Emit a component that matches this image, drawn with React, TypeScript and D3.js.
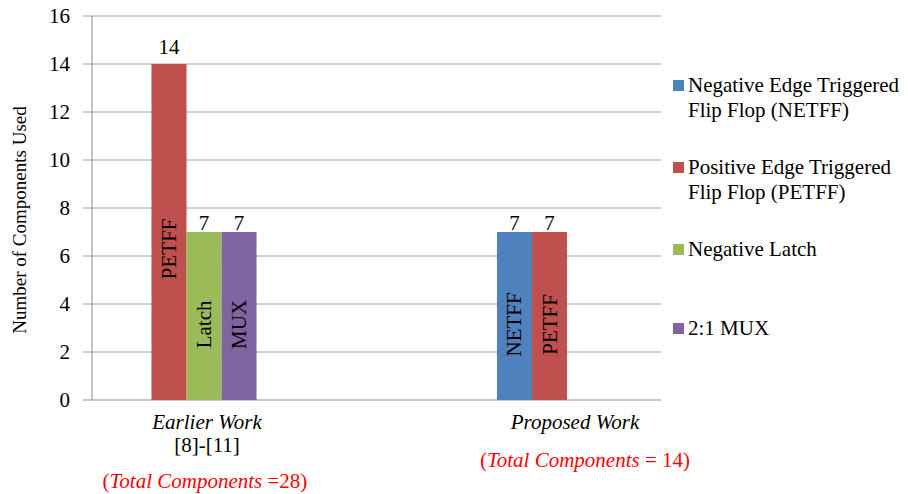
import React from "react";
import * as d3 from "d3";

const categories = ["Earlier Work", "Proposed Work"];
const categorySubLabels = ["[8]-[11]", ""];
const totalLabels = ["(Total Components =28)", "(Total Components = 14)"];
const seriesNames = [
  ["Negative Edge Triggered", "Flip Flop (NETFF)"],
  ["Positive Edge Triggered", "Flip Flop (PETFF)"],
  ["Negative Latch"],
  ["2:1 MUX"],
];
const seriesShort = ["NETFF", "PETFF", "Latch", "MUX"];
const seriesColors = ["#4F81BD", "#C0504D", "#9BBB59", "#8064A2"];
// values[series][category]
const netffValues = [0, 7];
const petffValues = [14, 7];
const latchValues = [7, 0];
const muxValues = [7, 0];
const yTicks = [0, 2, 4, 6, 8, 10, 12, 14, 16];

const W = 908;
const H = 494;
const FONT = "Liberation Serif";
const FS = 21;
const tStyle: React.CSSProperties = { fontFamily: FONT };

export default function App() {
  const values = [netffValues, petffValues, latchValues, muxValues];
  const left = 92;
  const right = 661;
  const top = 16;
  const bottom = 400;

  const y = d3.scaleLinear().domain([0, 16]).range([bottom, top]);
  const x = d3
    .scaleBand<string>()
    .domain(categories)
    .range([left, right])
    .paddingInner(0.6)
    .paddingOuter(0.1674)
    .align(0.4226);
  const barW = x.bandwidth() * 0.267;
  const labelOffsets = [3, 43];
  const totalOffsets = [1, 53];

  const bars: any[] = [];
  categories.forEach((c, ci) => {
    const visible = values
      .map((v, si) => ({ si, v: v[ci] }))
      .filter((d) => d.v > 0);
    const center = (x(c) as number) + x.bandwidth() / 2;
    const start = center - (visible.length * barW) / 2;
    visible.forEach((d, k) => {
      bars.push({ ci, si: d.si, v: d.v, x0: start + k * barW });
    });
  });

  const legendY = [92, 174, 256, 335];

  return (
    <svg
      width={W}
      height={H}
      style={{ position: "absolute", left: 0, top: 0, background: "#fff", fontFamily: FONT }}
    >
      {/* gridlines */}
      {yTicks.map((t) => (
        <line
          key={"g" + t}
          x1={left - 9}
          x2={right}
          y1={y(t)}
          y2={y(t)}
          stroke={t === 0 ? "#8c8c8c" : "#a6a6a6"}
          strokeWidth={1}
        />
      ))}
      {/* y axis */}
      <line x1={left} x2={left} y1={top} y2={bottom} stroke="#8c8c8c" strokeWidth={1} />
      {yTicks.map((t) => (
        <text
          key={"t" + t}
          x={left - 22}
          y={y(t) + 7}
          textAnchor="end"
          fontSize={FS}
          fill="#000"
          style={tStyle}
        >
          {t}
        </text>
      ))}
      <text
        transform={`translate(26, ${(top + bottom) / 2 + 12}) rotate(-90)`}
        textAnchor="middle"
        fontSize={19}
        fill="#000"
        style={tStyle}
      >
        Number of Components Used
      </text>

      {/* bars */}
      {bars.map((b, i) => (
        <g key={"b" + i}>
          <rect
            x={b.x0}
            y={y(b.v)}
            width={barW}
            height={y(0) - y(b.v)}
            fill={seriesColors[b.si]}
          />
          <text
            x={b.x0 + barW / 2}
            y={y(b.v) - (b.v > 7 ? 10 : 2)}
            textAnchor="middle"
            fontSize={FS}
            fill="#000"
            style={tStyle}
          >
            {b.v}
          </text>
          <text
            transform={`translate(${b.x0 + barW / 2 + 7}, ${y(b.v * 0.45)}) rotate(-90)`}
            textAnchor="middle"
            fontSize={FS}
            fill="#000"
            style={tStyle}
          >
            {seriesShort[b.si]}
          </text>
        </g>
      ))}

      {/* category labels */}
      {categories.map((c, ci) => {
        const cx = (x(c) as number) + x.bandwidth() / 2;
        return (
          <g key={"c" + c}>
            <text
              x={cx + labelOffsets[ci]}
              y={429}
              textAnchor="middle"
              fontSize={FS}
              fontStyle="italic"
              fill="#000"
              style={tStyle}
            >
              {c}
            </text>
            {categorySubLabels[ci] && (
              <text x={cx + labelOffsets[ci]} y={452} textAnchor="middle" fontSize={FS} fill="#000" style={tStyle}>
                {categorySubLabels[ci]}
              </text>
            )}
            <text
              x={cx + totalOffsets[ci]}
              y={ci === 0 ? 488 : 467}
              textAnchor="middle"
              fontSize={FS}
              fill="#ff0000"
              style={tStyle}
            >
              {"("}
              <tspan fontStyle="italic">Total Components</tspan>
              {totalLabels[ci].replace("(Total Components", "")}
            </text>
          </g>
        );
      })}

      {/* legend */}
      {seriesNames.map((lines, si) => (
        <g key={"l" + si}>
          <rect x={673} y={legendY[si] - 12} width={11} height={11} fill={seriesColors[si]} />
          <text x={688} y={legendY[si]} fontSize={FS} fill="#000" style={tStyle}>
            {lines.map((ln, li) => (
              <tspan key={li} x={688} dy={li === 0 ? 0 : 25}>
                {ln}
              </tspan>
            ))}
          </text>
        </g>
      ))}
    </svg>
  );
}
